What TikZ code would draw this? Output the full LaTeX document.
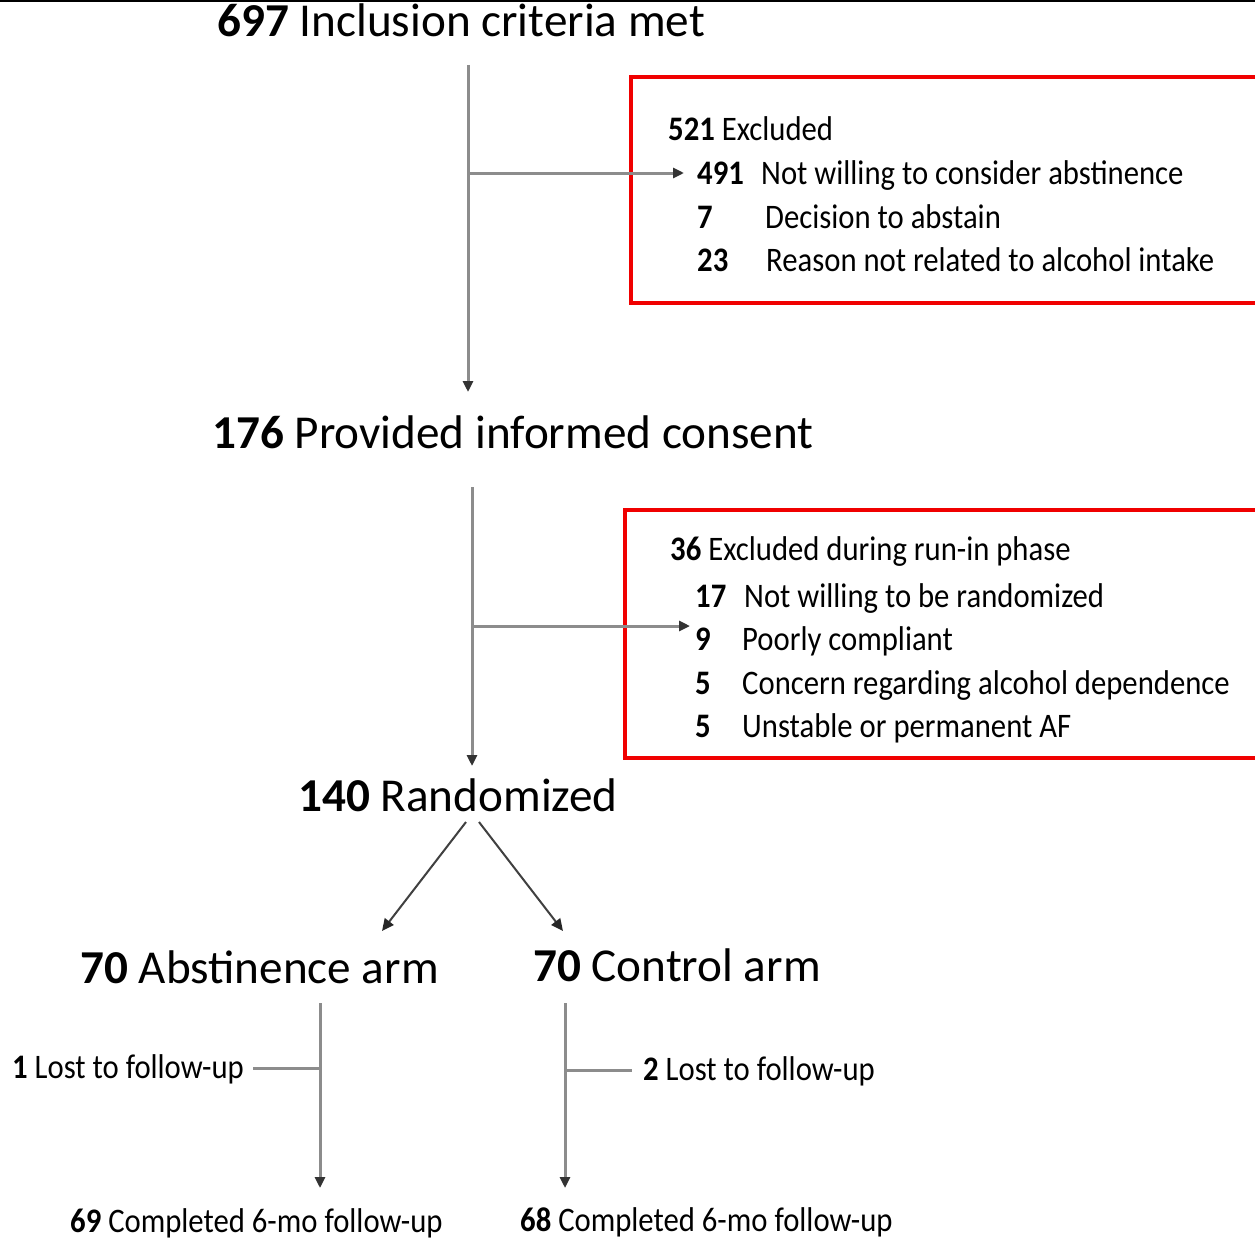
\documentclass[tikz,border=0pt]{standalone}
\usepackage{fontspec}
\setmainfont{Carlito}
\usetikzlibrary{arrows.meta}
\definecolor{flowgray}{RGB}{140,140,140}
\definecolor{boxred}{RGB}{240,0,0}
\newcommand{\tallt}[1]{\scalebox{1}[1.12]{#1}}
\tikzset{
  big/.style={anchor=base west, inner sep=0pt, font=\fontsize{47.2}{47.2}\selectfont},
  med/.style={anchor=base west, inner sep=0pt, font=\fontsize{30.7}{30.7}\selectfont},
  flow/.style={draw=flowgray, line width=3pt},
  arr/.style={flow, -{Triangle[length=11pt,width=10pt,color=black!80]}},
  diag/.style={draw=black!75, line width=2pt, -{Triangle[length=12pt,width=11pt,color=black!85]}},
  redbox/.style={draw=boxred, line width=4pt},
}
\begin{document}
\begin{tikzpicture}[x=1pt,y=-1pt]
\useasboundingbox (0,0) rectangle (1255,1239);
\fill[white] (0,0) rectangle (1255,1239);
\draw[line width=2pt] (0,1) -- (1255,1);

% titles
\node[big] (n697) at (217,37) {\textbf{697} Inclusion criteria met};
\node[big] (n176) at (212,448) {\textbf{176} Provided informed consent};
\node[big] (n140) at (298,811) {\textbf{140} Randomized};
\node[big] (nabs) at (80,983) {\textbf{70} Abstinence arm};
\node[big] (nctl) at (533,981) {\textbf{70} Control arm};

% box 1
\draw[redbox] (631,77) rectangle (1262,303);
\node[med] (e521) at (668,140) {\tallt{\textbf{521} Excluded}};
\node[med] (e491n) at (697,184) {\tallt{\textbf{491}}};
\node[med] (e491) at (761,184) {\tallt{Not willing to consider abstinence}};
\node[med] (e7n) at (697,228) {\tallt{\textbf{7}}};
\node[med] (e7) at (765,228) {\tallt{Decision to abstain}};
\node[med] (e23n) at (697,271) {\tallt{\textbf{23}}};
\node[med] (e23) at (766,271) {\tallt{Reason not related to alcohol intake}};

% box 2
\draw[redbox] (625,510) rectangle (1262,758);
\node[med] (r36) at (670,560) {\tallt{\textbf{36} Excluded during run-in phase}};
\node[med] (r17n) at (695,607) {\tallt{\textbf{17}}};
\node[med] (r17) at (744,607) {\tallt{Not willing to be randomized}};
\node[med] (r9n) at (695,650) {\tallt{\textbf{9}}};
\node[med] (r9) at (742,650) {\tallt{Poorly compliant}};
\node[med] (r5an) at (695,694) {\tallt{\textbf{5}}};
\node[med] (r5a) at (742,694) {\tallt{Concern regarding alcohol dependence}};
\node[med] (r5bn) at (695,737) {\tallt{\textbf{5}}};
\node[med] (r5b) at (742,737) {\tallt{Unstable or permanent AF}};

% follow-up
\node[med] (l1) at (12,1078) {\tallt{\textbf{1} Lost to follow-up}};
\node[med] (l2) at (643,1080) {\tallt{\textbf{2} Lost to follow-up}};
\node[med] (c69) at (70,1232) {\tallt{\textbf{69} Completed 6-mo follow-up}};
\node[med] (c68) at (520,1231) {\tallt{\textbf{68} Completed 6-mo follow-up}};

% connectors
\coordinate (v1a) at (468,65);
\coordinate (v1b) at (468,392);
\coordinate (h1a) at (468,173);
\coordinate (h1b) at (684,173);
\draw[arr] (v1a) -- (v1b);
\draw[arr] (h1a) -- (h1b);

\coordinate (v2a) at (472,487);
\coordinate (v2b) at (472,766);
\coordinate (h2a) at (472,626);
\coordinate (h2b) at (690,626);
\draw[arr] (v2a) -- (v2b);
\draw[arr] (h2a) -- (h2b);

\coordinate (d1a) at (466,822);
\coordinate (d1b) at (382,931);
\coordinate (d2a) at (479,822);
\coordinate (d2b) at (563,931);
\draw[diag] (d1a) -- (d1b);
\draw[diag] (d2a) -- (d2b);

\coordinate (v3a) at (320,1003);
\coordinate (v3b) at (320,1188);
\coordinate (h3a) at (320,1068);
\coordinate (h3b) at (253,1068);
\draw[arr] (v3a) -- (v3b);
\draw[flow] (h3a) -- (h3b);

\coordinate (v4a) at (565,1003);
\coordinate (v4b) at (565,1188);
\coordinate (h4a) at (565,1070);
\coordinate (h4b) at (632,1070);
\draw[arr] (v4a) -- (v4b);
\draw[flow] (h4a) -- (h4b);
\end{tikzpicture}
\end{document}
